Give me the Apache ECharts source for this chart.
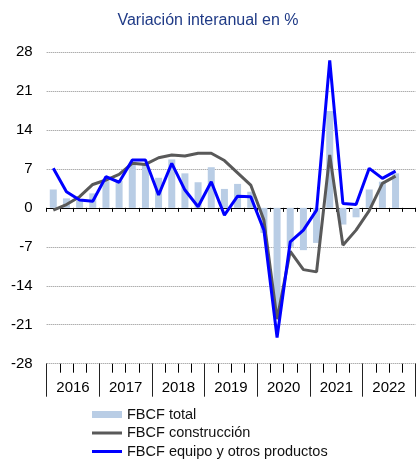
<!DOCTYPE html>
<html lang="es">

<head>
    <meta http-equiv="Content-Type" content="text/html;charset=UTF-8">
    <title>FBCF</title>
    <script src="https://cdn.jsdelivr.net/npm/echarts@6/dist/echarts.min.js"></script>
    <style type="text/css">
        body {
            margin: 0;
        }

        #main {
            height: 460px;
            width: 416px;
        }
    </style>
</head>

<body>
    <div id="main"></div>
</body>
<script>
    var years = ['2016', '2017', '2018', '2019', '2020', '2021', '2022'];
    var quarters = [];
    for (var y = 0; y < years.length; y++) {
        for (var q = 1; q <= 4; q++) {
            quarters.push(years[y] + '-T' + q);
        }
    }

    // variacion interanual en %, 2016-T1 .. 2022-T4 (ultimo sin dato)
    var fbcfTotal = [3.3, 1.7, 1.3, 2.6, 4.8, 4.9, 7.9, 8.0, 5.4, 8.7, 6.2, 4.6, 7.3, 3.4,
        4.3, 2.9, -4.5, -19.0, -7.0, -7.6, -6.3, 17.4, -3.0, -1.7, 3.3, 4.7, 6.2, null];
    var fbcfConstruccion = [-0.4, 0.6, 2.0, 4.2, 5.0, 6.0, 8.0, 7.8, 9.0, 9.5, 9.3, 9.8, 9.8, 8.5,
        6.3, 4.1, -2.2, -20.0, -7.8, -11.1, -11.5, 9.5, -6.7, -4.0, -0.5, 4.4, 5.7, null];
    var fbcfEquipo = [7.1, 2.9, 1.4, 1.2, 5.6, 4.6, 8.6, 8.6, 2.3, 8.0, 3.2, 0.2, 4.7, -1.3,
        2.1, 2.0, -4.0, -23.3, -6.1, -4.0, -0.4, 26.5, 0.8, 0.6, 7.1, 5.3, 6.6, null];

    var fontFam = 'Liberation Sans, Arial, sans-serif';

    // una leyenda por serie, apiladas a mano
    function legendItem(name, top, h) {
        return {
            data: [name],
            left: 92,
            top: top,
            padding: 0,
            itemWidth: 30,
            itemHeight: h,
            icon: 'rect',
            textStyle: { fontSize: 14.5, color: '#111', fontFamily: fontFam }
        };
    }

    option = {
        backgroundColor: '#fff',
        title: {
            text: 'Variación interanual en %',
            left: 'center',
            top: 8,
            textStyle: {
                color: '#1f3a86',
                fontSize: 16,
                fontWeight: 'normal',
                fontFamily: fontFam
            }
        },
        legend: [
            legendItem('FBCF total', 407, 7),
            legendItem('FBCF construcción', 425.5, 3),
            legendItem('FBCF equipo y otros productos', 444, 3)
        ],
        grid: {
            left: 46.7,
            right: 0.7,
            top: 52,
            bottom: 96.3
        },
        xAxis: [{
            type: 'category',
            data: quarters,
            position: 'bottom',
            axisLine: { onZero: true, lineStyle: { color: '#000', width: 1 } },
            axisTick: { show: true, interval: 0, length: 4, lineStyle: { color: '#000' } },
            axisLabel: { show: false },
            splitLine: { show: false }
        }, {
            type: 'category',
            data: quarters,
            position: 'bottom',
            axisLine: { show: false, onZero: false },
            axisTick: { show: true, interval: 0, length: 9, lineStyle: { color: '#000' } },
            axisLabel: { show: false },
            splitLine: { show: false }
        }, {
            type: 'category',
            data: years,
            position: 'bottom',
            axisLine: { show: false, onZero: false },
            axisTick: { show: true, interval: 0, length: 33, lineStyle: { color: '#222' } },
            axisLabel: {
                interval: 0,
                margin: 17,
                fontSize: 15,
                color: '#000',
                fontFamily: fontFam
            },
            splitLine: { show: false }
        }],
        yAxis: {
            type: 'value',
            min: -28,
            max: 28,
            interval: 7,
            axisLine: { show: false },
            axisTick: { show: false },
            axisLabel: {
                margin: 14,
                fontSize: 15,
                color: '#000',
                fontFamily: fontFam
            },
            splitLine: {
                lineStyle: { type: 'dotted', color: '#8c8c8c', width: 1 }
            }
        },
        series: [{
            name: 'FBCF total',
            type: 'bar',
            xAxisIndex: 0,
            data: fbcfTotal,
            barWidth: 7,
            itemStyle: { color: '#b9cde5' }
        }, {
            name: 'FBCF construcción',
            type: 'line',
            xAxisIndex: 0,
            data: fbcfConstruccion,
            showSymbol: false,
            symbol: 'none',
            itemStyle: { color: '#595959' },
            lineStyle: { color: '#595959', width: 3 }
        }, {
            name: 'FBCF equipo y otros productos',
            type: 'line',
            xAxisIndex: 0,
            data: fbcfEquipo,
            showSymbol: false,
            symbol: 'none',
            itemStyle: { color: '#0000ff' },
            lineStyle: { color: '#0000ff', width: 3 }
        }]
    };

    var myChart = echarts.init(document.getElementById('main'));
    myChart.setOption(option);
</script>

</html>
